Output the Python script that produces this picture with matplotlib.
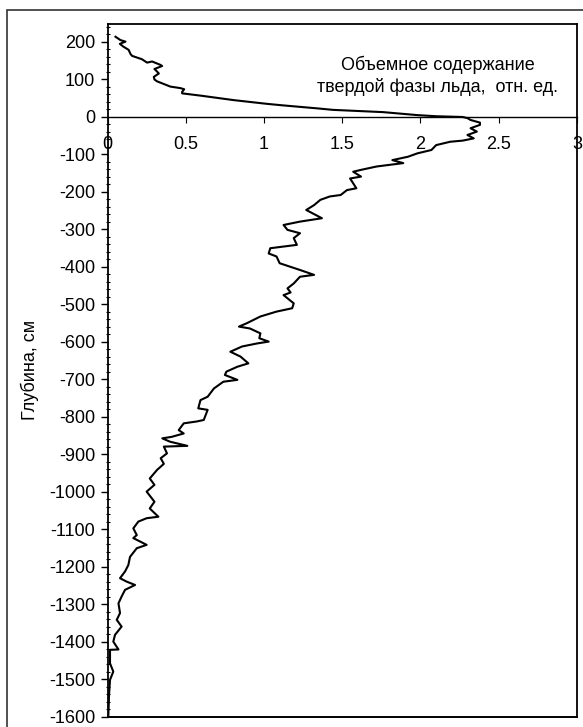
import numpy as np
import matplotlib.pyplot as plt
from matplotlib.patches import Rectangle
from matplotlib.ticker import MultipleLocator

plt.rcParams['font.family'] = ['Liberation Sans', 'DejaVu Sans']
plt.rcParams['axes.unicode_minus'] = False

# ice solid-phase content (rel. units) vs depth (cm), read from top to bottom
ice = [0.051, 0.083, 0.115, 0.079, 0.10, 0.135, 0.147, 0.157, 0.22, 0.253,
       0.285, 0.338, 0.349, 0.30, 0.317, 0.328, 0.296, 0.30, 0.317, 0.402,
       0.466, 0.49, 0.477, 0.477, 0.594, 0.70, 0.806, 0.91, 1.02, 1.12,
       1.23, 1.34, 1.44, 1.60, 1.76, 1.87, 1.98, 2.10, 2.19, 2.27,
       2.30, 2.32, 2.38, 2.38, 2.32, 2.36, 2.30, 2.34, 2.27, 2.19,
       2.10, 2.07, 1.98, 1.92, 1.82, 1.89, 1.72, 1.62, 1.57, 1.62,
       1.55, 1.59, 1.53, 1.49, 1.42, 1.36, 1.32, 1.27, 1.37, 1.23,
       1.125, 1.15, 1.23, 1.19, 1.21, 1.04, 1.03, 1.08, 1.10, 1.23,
       1.32, 1.23, 1.19, 1.15, 1.17, 1.125, 1.19, 1.18, 1.08, 0.977,
       0.89, 0.84, 0.91, 0.977, 0.97, 1.03, 0.955, 0.86, 0.785, 0.85,
       0.90, 0.83, 0.76, 0.75, 0.83, 0.74, 0.68, 0.64, 0.594, 0.58,
       0.64, 0.615, 0.57, 0.487, 0.455, 0.487, 0.41, 0.35, 0.40, 0.51,
       0.36, 0.38, 0.34, 0.36, 0.317, 0.27, 0.30, 0.25, 0.30, 0.27,
       0.325, 0.25, 0.197, 0.165, 0.187, 0.165, 0.25, 0.187, 0.144, 0.133,
       0.112, 0.08, 0.122, 0.176, 0.112, 0.09, 0.07, 0.08, 0.059, 0.09,
       0.048, 0.037, 0.07, 0.016, 0.016, 0.037, 0.016, 0.01, 0.005]
depth = [214, 205, 201, 195, 188, 179, 168, 163, 154, 145,
         148, 139, 136, 128, 121, 116, 107, 100, 95, 81,
         77, 74, 67, 63, 57, 51, 45, 40, 35, 31,
         27, 23, 19, 16, 13, 9, 5, 2, 1, 0,
         -3, -8, -15, -21, -30, -39, -48, -57, -63, -66,
         -75, -88, -97, -106, -115, -123, -132, -141, -146, -159,
         -164, -190, -195, -208, -212, -221, -235, -248, -270, -279,
         -288, -301, -310, -323, -341, -350, -364, -372, -390, -408,
         -421, -426, -444, -457, -468, -475, -497, -510, -519, -532,
         -550, -559, -564, -577, -590, -599, -604, -612, -626, -639,
         -657, -666, -679, -688, -701, -706, -724, -746, -755, -777,
         -781, -808, -812, -817, -835, -844, -853, -857, -866, -877,
         -879, -897, -910, -925, -941, -964, -981, -999, -1026, -1044,
         -1066, -1070, -1079, -1097, -1115, -1123, -1141, -1150, -1173, -1195,
         -1212, -1230, -1239, -1248, -1261, -1279, -1297, -1323, -1341, -1359,
         -1381, -1399, -1420, -1421, -1457, -1479, -1501, -1540, -1600]

xticks = [0, 0.5, 1, 1.5, 2, 2.5, 3]
xlabels = ['0', '0.5', '1', '1.5', '2', '2.5', '3']
yticks = np.arange(-1600, 201, 100)

fig = plt.figure(figsize=(5.83, 7.27), dpi=100)
ax = fig.add_axes([0.1844, 0.0138, 0.8053, 0.9532])

ax.plot(ice, depth, color='black', lw=1.5)

ax.set_xlim(0, 3)
ax.set_ylim(-1600, 248)

# x axis runs along the zero-depth line
ax.spines['bottom'].set_position(('data', 0))
ax.axhline(-1600, color='black', lw=1.4, clip_on=False)
for s in ax.spines.values():
    s.set_linewidth(1.3)
ax.spines['bottom'].set_linewidth(1.0)

ax.set_xticks(xticks)
ax.set_xticklabels(xlabels)
ax.set_yticks(yticks)
ax.yaxis.set_minor_locator(MultipleLocator(20))
ax.tick_params(axis='x', direction='out', length=4, width=0.8, pad=10,
               labelsize=13)
ax.tick_params(axis='y', which='major', direction='out', length=5, width=1,
               pad=4, labelsize=13)
ax.tick_params(axis='y', which='minor', direction='inout', length=3, width=0.8)

ax.text(2.11, 109, 'Объемное содержание\nтвердой фазы льда,  отн. ед.',
        ha='center', va='center', multialignment='center', fontsize=13,
        linespacing=1.3)

fig.text(30 / 583, 1 - 370 / 727, 'Глубина, см', rotation=90,
         ha='center', va='center', fontsize=13)

# outer frame
fig.patches.append(Rectangle((7 / 583, -0.05), 1.2, 1.05 - 10 / 727,
                             transform=fig.transFigure, fill=False,
                             edgecolor='#333333', lw=1.2))

fig.savefig('out.png', dpi=100)
